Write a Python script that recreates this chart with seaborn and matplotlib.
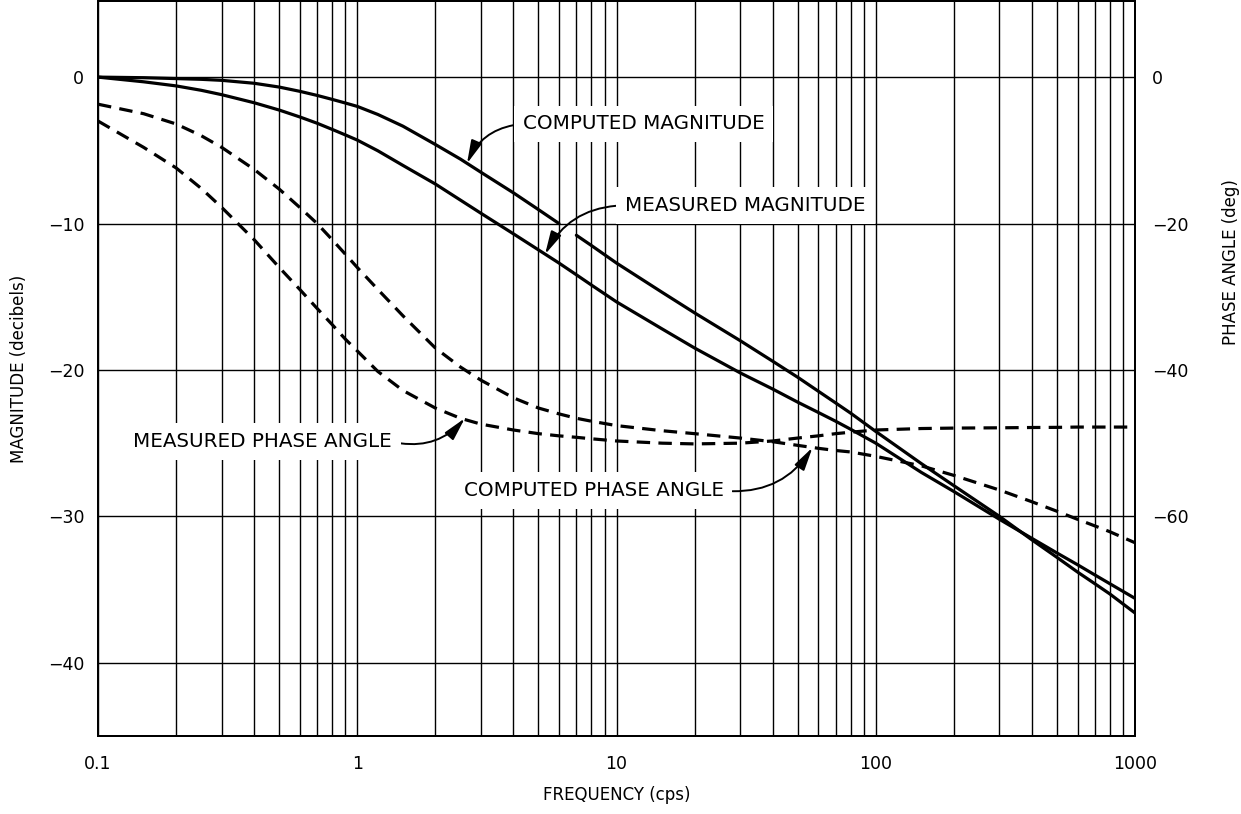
import matplotlib
matplotlib.use("Agg")
import numpy as np
import pandas as pd
import seaborn as sns
import matplotlib.pyplot as plt
from matplotlib.ticker import LogLocator, FixedLocator, NullFormatter

# ---------------- data ----------------
freq = [0.1, 0.15, 0.2, 0.25, 0.3, 0.4, 0.5, 0.6, 0.7, 0.8, 0.9, 1, 1.2, 1.5, 2, 2.5, 3,
        4, 5, 6, 7, 8, 10, 15, 20, 30, 40, 50, 60, 70, 80, 100, 150, 200, 300, 400,
        500, 600, 700, 800, 1000]

computed_mag = [0, -0.04, -0.1, -0.15, -0.22, -0.42, -0.68, -0.97, -1.25, -1.52, -1.77,
                -2.0, -2.55, -3.35, -4.6, -5.6, -6.5, -7.9, -9.05, -10.0, -10.8, -11.5,
                -12.7, -14.7, -16.1, -18.0, -19.4, -20.5, -21.45, -22.25, -22.95, -24.2,
                -26.4, -27.9, -30.0, -31.6, -32.8, -33.8, -34.6, -35.3, -36.6]

measured_mag = [0, -0.32, -0.6, -0.9, -1.2, -1.75, -2.25, -2.72, -3.15, -3.57, -3.95,
                -4.3, -5.03, -6.03, -7.3, -8.4, -9.3, -10.7, -11.8, -12.7, -13.5, -14.2,
                -15.35, -17.2, -18.5, -20.2, -21.3, -22.2, -22.9, -23.5, -24.05, -25.0,
                -27.0, -28.3, -30.2, -31.5, -32.5, -33.3, -34.0, -34.6, -35.6]

computed_phase = [-3.7, -5.0, -6.4, -8.0, -9.6, -12.6, -15.3, -17.8, -20.0, -22.2, -24.2,
                  -26.0, -29.0, -32.6, -37.0, -39.6, -41.4, -43.8, -45.2, -46.0, -46.6,
                  -47.0, -47.6, -48.3, -48.7, -49.3, -49.8, -50.3, -50.7, -51.0, -51.2,
                  -51.8, -53.1, -54.4, -56.4, -58.0, -59.3, -60.4, -61.3, -62.1, -63.6]

measured_phase = [-6.0, -9.6, -12.4, -15.2, -17.8, -22.2, -26.0, -29.0, -31.6, -33.8,
                  -35.8, -37.4, -40.2, -42.8, -45.2, -46.6, -47.4, -48.2, -48.7, -49.0,
                  -49.2, -49.4, -49.7, -50.0, -50.1, -50.0, -49.7, -49.3, -49.0, -48.7,
                  -48.5, -48.2, -48.0, -47.94, -47.9, -47.86, -47.84, -47.8, -47.8,
                  -47.8, -47.8]

# break in the computed-magnitude trace where the label arrow crosses it
computed_gap = (6, 7)

x_ticks = [0.1, 1, 10, 100, 1000]
x_tick_labels = ["0.1", "1", "10", "100", "1000"]
mag_ticks = [0, -10, -20, -30, -40]
phase_ticks = [0, -20, -40, -60]

df = pd.DataFrame({
    "freq": freq,
    "computed_mag": computed_mag,
    "measured_mag": measured_mag,
    "computed_phase": computed_phase,
    "measured_phase": measured_phase,
})

# ---------------- style ----------------
sns.set_theme(style="white")
plt.rcParams["font.family"] = ["DejaVu Sans"]
plt.rcParams["axes.unicode_minus"] = True
plt.rcParams["text.color"] = "black"
plt.rcParams["axes.labelcolor"] = "black"
plt.rcParams["xtick.color"] = "black"
plt.rcParams["ytick.color"] = "black"

fig = plt.figure(figsize=(12.41, 8.14), dpi=100)
ax = fig.add_axes([0.079, 0.0958, 0.8356, 0.903])
ax.set_xscale("log")
ax2 = ax.twinx()

solid_kw = dict(color="black", linewidth=2.3, estimator=None, sort=True)
dash_kw = dict(color="black", linewidth=2.3, estimator=None, sort=True,
               linestyle=(0, (4.2, 2.6)))

seg1 = df[df["freq"] <= computed_gap[0]]
seg2 = df[df["freq"] >= computed_gap[1]]
sns.lineplot(data=seg1, x="freq", y="computed_mag", ax=ax, **solid_kw)
sns.lineplot(data=seg2, x="freq", y="computed_mag", ax=ax, **solid_kw)
sns.lineplot(data=df, x="freq", y="measured_mag", ax=ax, **solid_kw)

sns.lineplot(data=df, x="freq", y="computed_phase", ax=ax2, **dash_kw)
sns.lineplot(data=df, x="freq", y="measured_phase", ax=ax2, **dash_kw)

ax.set_xlim(0.1, 1000)
ax.set_ylim(-45, 5.2)
ax2.set_ylim(-90, 10.4)

# grid
ax.xaxis.set_major_locator(FixedLocator(x_ticks))
ax.set_xticklabels(x_tick_labels)
ax.xaxis.set_minor_locator(LogLocator(base=10, subs=range(2, 10), numticks=30))
ax.xaxis.set_minor_formatter(NullFormatter())
ax.set_yticks(mag_ticks)
ax2.set_yticks(phase_ticks)
ax.set_axisbelow(True)
ax.grid(True, which="both", axis="x", color="black", linewidth=1.0)
ax.grid(True, which="major", axis="y", color="black", linewidth=1.0)
ax2.grid(False)

ax.tick_params(axis="both", which="both", length=0, labelsize=12.5, colors="black")
ax.tick_params(axis="x", pad=14)
ax.tick_params(axis="y", pad=10)
ax2.tick_params(axis="y", length=0, labelsize=12.5, pad=12, colors="black")

for a in (ax, ax2):
    for s in a.spines.values():
        s.set_visible(True)
        s.set_color("black")
        s.set_linewidth(1.4)

ax.set_xlabel("FREQUENCY (cps)", fontsize=12, labelpad=9, color="black")
ax.set_ylabel("MAGNITUDE (decibels)", fontsize=12, color="black")
ax.yaxis.set_label_coords(-0.068, 0.5)
ax2.set_ylabel("PHASE ANGLE (deg)", fontsize=12, color="black")
ax2.yaxis.set_label_coords(1.084, 0.645)

# ---------------- annotations ----------------
box = dict(boxstyle="square,pad=0.45", fc="white", ec="none")
arrow = dict(arrowstyle="-|>,head_length=0.7,head_width=0.17", color="black",
             linewidth=1.4, mutation_scale=20, shrinkA=0, shrinkB=0)
txt_kw = dict(ha="left", va="center", fontsize=14.3, color="black", bbox=box, zorder=5)

ax2.annotate("COMPUTED MAGNITUDE", xy=(2.65, -5.9), xycoords=ax.transData,
             xytext=(4.34, -3.2), textcoords=ax.transData,
             arrowprops=dict(arrow, connectionstyle="arc3,rad=0.3", relpos=(0, 0.5)),
             **txt_kw)
ax2.annotate("MEASURED MAGNITUDE", xy=(5.3, -12.1), xycoords=ax.transData,
             xytext=(10.8, -8.76), textcoords=ax.transData,
             arrowprops=dict(arrow, connectionstyle="arc3,rad=0.3", relpos=(0, 0.5)),
             **txt_kw)
ax2.annotate("MEASURED PHASE ANGLE", xy=(2.6, -46.6), xycoords="data",
             xytext=(0.1365, -49.8), textcoords="data",
             arrowprops=dict(arrow, connectionstyle="arc3,rad=0.3", relpos=(1, 0.5)),
             **txt_kw)
ax2.annotate("COMPUTED PHASE ANGLE", xy=(57, -50.6), xycoords="data",
             xytext=(2.57, -56.5), textcoords="data",
             arrowprops=dict(arrow, connectionstyle="arc3,rad=0.3", relpos=(1, 0.5)),
             **txt_kw)

fig.savefig("out.png", dpi=100, facecolor="white")
